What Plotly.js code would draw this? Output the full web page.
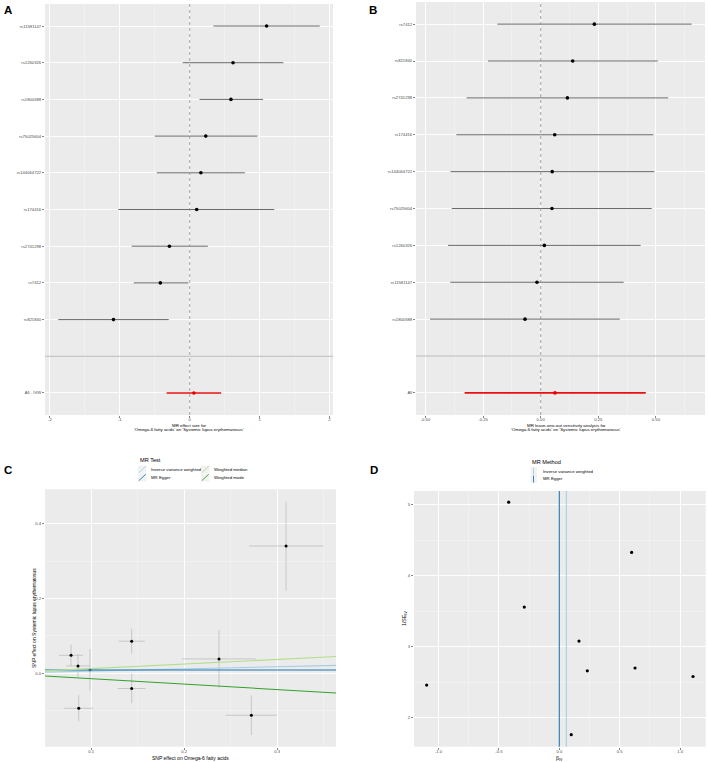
<!DOCTYPE html>
<html>
<head>
<meta charset="utf-8">
<script src="https://cdn.plot.ly/plotly-3.0.1.min.js"></script>
<style>html,body{margin:0;padding:0;background:#fff;}#chart{width:708px;height:762px;}</style>
</head>
<body>
<div id="chart"></div>
<script>
// ---------- Panel A: single-SNP forest ----------
const snpA = ['rs11581147','rs1260326','rs1800588','rs75025604','rs144064722','rs174416','rs2741298','rs7412','rs821840'];
const estA = [1.10, 0.62, 0.59, 0.23, 0.16, 0.10, -0.29, -0.42, -1.09];
const loA  = [0.34, -0.10, 0.14, -0.50, -0.47, -1.02, -0.83, -0.80, -1.88];
const hiA  = [1.86, 1.34, 1.05, 0.97, 0.79, 1.21, 0.26, -0.02, -0.30];
const allLabelA = 'All - IVW';
const allA = [0.06, -0.33, 0.45]; // est, lo, hi

// ---------- Panel B: leave-one-out ----------
const snpB = ['rs7412','rs821840','rs2741298','rs174416','rs144064722','rs75025604','rs1260326','rs11581147','rs1800588'];
const estB = [0.233, 0.139, 0.116, 0.061, 0.050, 0.049, 0.016, -0.016, -0.068];
const loB  = [-0.188, -0.229, -0.321, -0.366, -0.391, -0.386, -0.402, -0.392, -0.480];
const hiB  = [0.655, 0.508, 0.553, 0.489, 0.493, 0.482, 0.434, 0.360, 0.343];
const allLabelB = 'All';
const allB = [0.062, -0.330, 0.456];

// ---------- Panel C: scatter ----------
const snpC = ['rs11581147','rs1260326','rs75025604','rs174416','rs1800588','rs2741298','rs821840','rs144064722','rs7412'];
const bxC  = [0.3097, 0.0785, 0.0860, 0.0989, 0.1437, 0.1437, 0.0868, 0.2376, 0.2724];
const sexC = [0.040, 0.0129, 0.0128, 0.012, 0.014, 0.015, 0.0155, 0.040, 0.0277];
const byC  = [0.341, 0.048, 0.0196, 0.0088, 0.0858, -0.041, -0.094, 0.0383, -0.1126];
const seyC = [0.120, 0.029, 0.032, 0.056, 0.0335, 0.0395, 0.035, 0.077, 0.053];
const methodC = ['Inverse variance weighted','MR Egger','Weighted median','Weighted mode'];
const interceptC = [0, 0.0088, 0, 0];
const slopeC = [0.058, 0.0, 0.123, -0.146];

// ---------- Panel D: funnel ----------
const snpD = ['rs11581147','rs1260326','rs75025604','rs174416','rs1800588','rs2741298','rs821840','rs144064722','rs7412'];
const betaIV = [1.107, 0.627, 0.232, 0.099, 0.599, -0.290, -1.098, 0.163, -0.419];
const invSeIV = [2.58, 2.70, 2.66, 1.76, 4.33, 3.56, 2.46, 3.08, 5.04];
const methodD = ['Inverse variance weighted','MR Egger'];
const estD = [0.058, 0.0];

// ---------- styles ----------
const W = 708, H = 762;
const px = x => x / W;
const py = y => 1 - y / H;
const FONT = 'Liberation Sans, Arial, Helvetica, sans-serif';
const colC = ['#a6cee3','#1f78b4','#b2df8a','#33a02c'];
const tickFont = {family: FONT, size: 4.2, color: '#4D4D4D'};

function forestTraces(snps, est, lo, hi, allLab, all, xa, ya) {
  const n = snps.length;
  const yPos = snps.map((s, i) => n + 2 - i); // top row = n+2, bottom SNP = 3
  return {
    yPos,
    traces: [
      {type: 'scatter', mode: 'markers', x: est, y: yPos, xaxis: xa, yaxis: ya,
       marker: {color: '#000', size: 3.6},
       error_x: {type: 'data', symmetric: false,
                 array: hi.map((h, i) => h - est[i]), arrayminus: lo.map((l, i) => est[i] - l),
                 width: 0, thickness: 1, color: '#6a6a6a'},
       showlegend: false, hoverinfo: 'skip'},
      {type: 'scatter', mode: 'markers', x: [all[0]], y: [1], xaxis: xa, yaxis: ya,
       marker: {color: '#E00000', size: 3.6},
       error_x: {type: 'data', symmetric: false, array: [all[2] - all[0]], arrayminus: [all[0] - all[1]],
                 width: 0, thickness: 1.6, color: '#E81010'},
       showlegend: false, hoverinfo: 'skip'}
    ]
  };
}

const fA = forestTraces(snpA, estA, loA, hiA, allLabelA, allA, 'x', 'y');
const fB = forestTraces(snpB, estB, loB, hiB, allLabelB, allB, 'x2', 'y2');

const xRangeC = [0.0505, 0.3634];
const traces = [...fA.traces, ...fB.traces];

// C points with error bars
traces.push({type: 'scatter', mode: 'markers', x: bxC, y: byC, xaxis: 'x3', yaxis: 'y3',
  marker: {color: '#000', size: 3},
  error_x: {type: 'data', array: sexC, width: 0, thickness: 0.8, color: '#BEBEBE'},
  error_y: {type: 'data', array: seyC, width: 0, thickness: 0.8, color: '#BEBEBE'},
  showlegend: false, hoverinfo: 'skip'});
// C regression lines
methodC.forEach((m, i) => {
  traces.push({type: 'scatter', mode: 'lines', name: m, xaxis: 'x3', yaxis: 'y3',
    x: xRangeC, y: xRangeC.map(x => interceptC[i] + slopeC[i] * x),
    line: {color: colC[i], width: 1.1}, showlegend: false, hoverinfo: 'skip'});
});
// D points
traces.push({type: 'scatter', mode: 'markers', x: betaIV, y: invSeIV, xaxis: 'x4', yaxis: 'y4',
  marker: {color: '#000', size: 3.2}, showlegend: false, hoverinfo: 'skip'});

const common = {
  showgrid: true, gridcolor: '#FFFFFF', gridwidth: 0.9, zeroline: false,
  showline: false, ticks: 'outside', ticklen: 2, tickwidth: 0.6, tickcolor: '#333333',
  tickfont: tickFont, automargin: false, fixedrange: true
};
const xCommon = Object.assign({}, common, {ticklabelstandoff: -2});
const minorGrid = d => ({dtick: d, showgrid: true, gridcolor: '#F7F7F7', gridwidth: 0.5, ticks: ''});

const layout = {
  width: W, height: H, autosize: false,
  margin: {l: 0, r: 0, t: 0, b: 0, pad: 0},
  paper_bgcolor: '#FFFFFF', plot_bgcolor: '#EBEBEB',
  showlegend: false,
  font: {family: FONT, color: '#000'},
  xaxis: Object.assign({}, xCommon, {domain: [px(45), px(333)], anchor: 'y', range: [-2.07, 2.05],
    tickvals: [-2, -1, 0, 1, 2], ticktext: ['-2','-1','0','1','2'], minor: minorGrid(0.5)}),
  yaxis: Object.assign({}, common, {domain: [py(415), py(4)], anchor: 'x', range: [0.4, 11.6],
    tickvals: [...fA.yPos, 1], ticktext: [...snpA, allLabelA]}),
  xaxis2: Object.assign({}, xCommon, {domain: [px(416), px(705)], anchor: 'y2', range: [-0.541, 0.713],
    tickvals: [-0.5, -0.25, 0, 0.25, 0.5], ticktext: ['-0.50','-0.25','0.00','0.25','0.50'], minor: minorGrid(0.125)}),
  yaxis2: Object.assign({}, common, {domain: [py(415), py(2)], anchor: 'x2', range: [0.4, 11.6],
    tickvals: [...fB.yPos, 1], ticktext: [...snpB, allLabelB]}),
  xaxis3: Object.assign({}, xCommon, {domain: [px(45), px(336)], anchor: 'y3', range: xRangeC,
    tickvals: [0.1, 0.2, 0.3], ticktext: ['0.1','0.2','0.3'], minor: minorGrid(0.05)}),
  yaxis3: Object.assign({}, common, {domain: [py(746.7), py(489.3)], anchor: 'x3', range: [-0.197, 0.493],
    tickvals: [0, 0.2, 0.4], ticktext: ['0.0','0.2','0.4'], minor: minorGrid(0.1)}),
  xaxis4: Object.assign({}, xCommon, {domain: [px(414), px(705.7)], anchor: 'y4', range: [-1.203, 1.212],
    tickvals: [-1, -0.5, 0, 0.5, 1], ticktext: ['-1.0','-0.5','0.0','0.5','1.0'], minor: minorGrid(0.25)}),
  yaxis4: Object.assign({}, common, {domain: [py(746.7), py(491)], anchor: 'x4', range: [1.59, 5.197],
    tickvals: [2, 3, 4, 5], ticktext: ['2','3','4','5'], minor: minorGrid(0.5)}),
  shapes: [],
  annotations: []
};

// reference lines in A and B
[['x','y'],['x2','y2']].forEach(([xa, ya]) => {
  layout.shapes.push({type: 'line', xref: xa, yref: ya + ' domain', x0: 0, x1: 0, y0: 0, y1: 1,
    line: {color: '#8c8c8c', width: 0.8, dash: 'dot'}, layer: 'above'});
  layout.shapes.push({type: 'line', xref: xa + ' domain', yref: ya, x0: 0, x1: 1, y0: 2, y1: 2,
    line: {color: '#BDBDBD', width: 1}, layer: 'above'});
});
// D vertical estimate lines
methodD.forEach((m, i) => {
  layout.shapes.push({type: 'line', xref: 'x4', yref: 'y4 domain', x0: estD[i], x1: estD[i], y0: 0, y1: 1,
    line: {color: colC[i], width: 1.1}, layer: 'above'});
});

function ann(text, x, y, size, opts) {
  layout.annotations.push(Object.assign({text, x: px(x), y: py(y), xref: 'paper', yref: 'paper',
    showarrow: false, xanchor: 'center', yanchor: 'middle',
    font: {family: FONT, size, color: '#000'}}, opts || {}));
}
// panel letters
ann('<b>A</b>', 7.5, 10, 11.5);
ann('<b>B</b>', 373, 10, 11.5);
ann('<b>C</b>', 8, 470, 11.5);
ann('<b>D</b>', 373.5, 470, 11.5);
// axis titles
ann('MR effect size for', 189, 425, 4.4);
ann("'Omega-6 fatty acids' on 'Systemic lupus erythematosus'", 189, 429.8, 4.4);
ann('MR leave-one-out sensitivity analysis for', 566, 425, 4.4);
ann("'Omega-6 fatty acids' on 'Systemic lupus erythematosus'", 566, 429.8, 4.4);
ann('SNP effect on Omega-6 fatty acids', 190.5, 757.5, 5);
ann('SNP effect on Systemic lupus erythematosus', 34, 618, 5, {textangle: -90});
ann('β<sub>IV</sub>', 559.5, 758, 5.2);
ann('1/SE<sub>IV</sub>', 404, 619, 5.2, {textangle: -90});

// legend C (manual)
ann('MR Test', 137.7, 460, 5.6, {xanchor: 'left'});
const legC = [[0, 0], [0, 1], [1, 0], [1, 1]]; // [col,row] per method
const colX = [138, 201], rowY = [465.5, 473.5], textX = [149, 211.5];
methodC.forEach((m, i) => {
  const [c, r] = legC[i];
  const x0 = colX[c], y0 = rowY[r];
  layout.shapes.push({type: 'rect', xref: 'paper', yref: 'paper', x0: px(x0), x1: px(x0 + 8.5), y0: py(y0 + 8), y1: py(y0),
    fillcolor: '#F2F2F2', line: {width: 0}});
  layout.shapes.push({type: 'line', xref: 'paper', yref: 'paper', x0: px(x0 + 0.8), x1: px(x0 + 7.7), y0: py(y0 + 7.2), y1: py(y0 + 0.8),
    line: {color: colC[i], width: 0.9}});
  ann(m, textX[c], y0 + 4, 4.3, {xanchor: 'left'});
});
// legend D (manual)
ann('MR Method', 530, 461.7, 5.6, {xanchor: 'left'});
methodD.forEach((m, i) => {
  const y0 = 467 + i * 8;
  layout.shapes.push({type: 'rect', xref: 'paper', yref: 'paper', x0: px(530.5), x1: px(537), y0: py(y0 + 8), y1: py(y0),
    fillcolor: '#F2F2F2', line: {width: 0}});
  layout.shapes.push({type: 'line', xref: 'paper', yref: 'paper', x0: px(533.5), x1: px(533.5), y0: py(y0 + 7.5), y1: py(y0 + 0.5),
    line: {color: colC[i], width: 0.9}});
  ann(m, 541, y0 + 4, 4.3, {xanchor: 'left'});
});

Plotly.newPlot('chart', traces, layout, {staticPlot: true, displayModeBar: false});
</script>
</body>
</html>
